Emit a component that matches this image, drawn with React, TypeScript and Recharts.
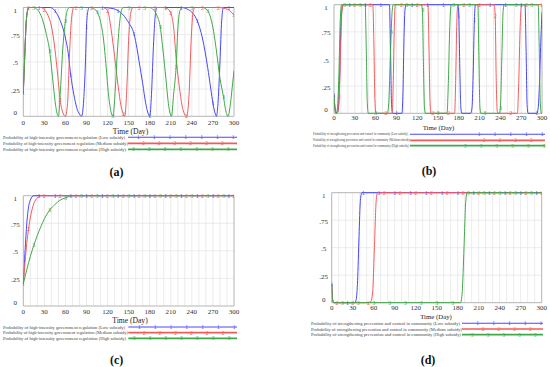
import React from "react";
import { LineChart, Line, XAxis, YAxis, CartesianGrid, ReferenceArea } from "recharts";

type Pt = [number, number];

const dayTicks = [0, 30, 60, 90, 120, 150, 180, 210, 240, 270, 300];
const probTicks = [0, 0.25, 0.5, 0.75, 1];
const gridDays = [10, 20, 30, 40, 50, 60, 70, 80, 90, 100, 110, 120, 130, 140, 150, 160, 170, 180, 190, 200, 210, 220, 230, 240, 250, 260, 270, 280, 290];

const regulationNames = [
  "Probability of high-intensity government regulation (Low subsidy)",
  "Probability of high-intensity government regulation (Medium subsidy)",
  "Probability of high-intensity government regulation (High subsidy)",
];
const communityNames = [
  "Probability of strengthening prevention and control in community (Low subsidy)",
  "Probability of strengthening prevention and control in community (Medium subsidy)",
  "Probability of strengthening prevention and control in community (High subsidy)",
];

// Vensim-style run markers: series number every 22.5 days, staggered
const markerOffsets = [0, 7.5, 15];
const markerStep = 22.5;

// (a) high-intensity government regulation
const aLow: Pt[] = [[0, 0.21], [2, 0.55], [4, 0.85], [6, 0.97], [8, 1], [22.5, 1], [38, 1], [45, 0.97], [52.5, 0.88], [60, 0.72], [64, 0.58], [67.5, 0.38], [72, 0.2], [76, 0.08], [80, 0.02], [83, 0], [86, 0.15], [88.5, 0.5], [90, 0.82], [92, 0.97], [94, 1], [112.5, 1], [128, 0.99], [135, 0.97], [142.5, 0.93], [150, 0.86], [157.5, 0.76], [162, 0.62], [165, 0.5], [170, 0.3], [174, 0.13], [177.5, 0.03], [180, 0], [182.5, 0.2], [185, 0.6], [187.5, 0.9], [190, 1], [202.5, 1], [225, 1], [235, 0.98], [241, 0.95], [247.5, 0.88], [255, 0.72], [262.5, 0.45], [267, 0.25], [270, 0.12], [273, 0.03], [275, 0], [277.5, 0.15], [280, 0.5], [282.5, 0.88], [285, 1], [292.5, 1], [300, 1]];
const aMed: Pt[] = [[0, 0.21], [2, 0.55], [4, 0.85], [6, 0.97], [7.5, 1], [25, 1], [30, 0.98], [35, 0.93], [40, 0.83], [45, 0.62], [49, 0.38], [52.5, 0.15], [56, 0.04], [60, 0], [63, 0.12], [66, 0.6], [69, 0.92], [72, 1], [75, 1], [97.5, 1], [113, 1], [120, 0.97], [125, 0.8], [130, 0.55], [135, 0.28], [139, 0.1], [142.5, 0.02], [144.5, 0], [147, 0.2], [150, 0.7], [153, 0.95], [156, 1], [165, 1], [187.5, 1], [200, 1], [205, 0.99], [210, 0.95], [214, 0.82], [218, 0.5], [222, 0.28], [226, 0.1], [229.5, 0.02], [232.5, 0], [236, 0.2], [239, 0.7], [242, 0.97], [245, 1], [255, 1], [277.5, 1], [288, 0.99], [294, 0.97], [300, 0.93]];
const aHigh: Pt[] = [[0, 0.21], [2, 0.55], [4, 0.85], [6, 0.97], [8, 1], [15, 1], [20, 0.98], [25, 0.93], [30, 0.83], [33, 0.75], [37.5, 0.6], [40, 0.46], [43, 0.27], [46, 0.1], [50, 0], [53, 0.25], [56, 0.6], [60, 0.88], [63, 0.98], [66, 1], [82.5, 1], [95, 1], [100, 0.99], [105, 0.96], [110, 0.87], [114, 0.72], [118, 0.45], [121, 0.22], [124, 0.07], [127.5, 0], [131, 0.25], [134, 0.6], [137.5, 0.88], [140, 0.98], [143, 1], [150, 1], [172.5, 1], [180, 1], [185, 0.98], [190, 0.93], [195, 0.82], [199, 0.6], [203, 0.35], [206, 0.15], [208.5, 0.04], [211, 0], [214, 0.2], [217.5, 0.45], [220, 0.8], [223, 0.97], [226, 1], [240, 1], [255, 1], [262.5, 0.97], [267, 0.9], [271, 0.78], [275, 0.6], [280, 0.35], [285, 0.18], [288, 0.06], [291.5, 0], [295, 0.12], [298, 0.3], [300, 0.42]];

// (b) strengthening prevention and control in community
const bLow: Pt[] = [[0, 0.17], [1.5, 0.04], [3, 0], [6, 0.02], [8, 0.3], [10, 0.8], [12, 0.98], [14, 1], [22.5, 1], [45, 1], [67.5, 1], [80, 1], [81.5, 0.6], [83, 0.08], [84.5, 0], [90, 0], [98, 0], [99.5, 0.2], [101, 0.7], [102.5, 0.96], [104, 1], [112.5, 1], [135, 1], [157.5, 1], [179, 1], [180, 0.9], [181.5, 0.4], [183, 0.05], [184.5, 0], [197, 0], [199, 0.05], [200.5, 0.3], [202.5, 0.86], [204, 1], [225, 1], [247.5, 1], [270, 1], [275.5, 1], [277, 0.6], [278.5, 0.08], [280, 0], [292.5, 0], [294.5, 0.05], [296.5, 0.3], [298.5, 0.7], [300, 0.93]];
const bMed: Pt[] = [[0, 0.17], [1.5, 0.04], [3, 0], [5.5, 0.02], [7.5, 0.15], [9.5, 0.6], [11.5, 0.95], [13.5, 1], [30, 1], [52.5, 1], [56, 1], [57.5, 0.65], [59, 0.12], [60.5, 0], [75, 0], [84, 0], [85.5, 0.3], [87, 0.8], [88.5, 1], [97.5, 1], [120, 1], [135.5, 1], [137, 0.6], [138.5, 0.1], [140, 0], [142.5, 0], [165, 0], [174, 0], [175.5, 0.3], [177, 0.8], [178.5, 1], [187.5, 1], [210, 1], [231, 1], [232.5, 0.9], [234, 0.3], [235.5, 0.02], [237, 0], [255, 0], [264.5, 0], [266.5, 0.3], [268.5, 0.8], [270.5, 1], [277.5, 1], [300, 1]];
const bHigh: Pt[] = [[0, 0.17], [1.5, 0.04], [3, 0], [5, 0.05], [7, 0.35], [9, 0.85], [11, 1], [15, 1], [37.5, 1], [45, 1], [46.5, 0.6], [48, 0.1], [49.5, 0], [60, 0], [77, 0], [79, 0.1], [81, 0.45], [82.5, 0.75], [84, 0.95], [85.5, 1], [105, 1], [126, 1], [127.5, 0.95], [129, 0.45], [130.5, 0.05], [132, 0], [150, 0], [163, 0], [165, 0.3], [167, 0.8], [169, 1], [172.5, 1], [195, 1], [207.5, 1], [209, 0.5], [210.5, 0.05], [212, 0], [217.5, 0], [238.5, 0], [240, 0.05], [242, 0.5], [244, 0.95], [245.5, 1], [262.5, 1], [285, 1], [294.5, 1], [296, 0.6], [297.5, 0.1], [299, 0], [300, 0]];

// (c) high-intensity government regulation
const cLow: Pt[] = [[0, 0.2], [2.5, 0.5], [5, 0.75], [7.5, 0.9], [10, 0.96], [15, 1], [22.5, 1], [45, 1], [67.5, 1], [90, 1], [112.5, 1], [135, 1], [157.5, 1], [180, 1], [202.5, 1], [225, 1], [247.5, 1], [270, 1], [292.5, 1], [300, 1]];
const cMed: Pt[] = [[0, 0.2], [2.5, 0.4], [5, 0.57], [7.5, 0.7], [10, 0.8], [15, 0.93], [20, 0.98], [25, 1], [30, 1], [52.5, 1], [75, 1], [97.5, 1], [120, 1], [142.5, 1], [165, 1], [187.5, 1], [210, 1], [232.5, 1], [255, 1], [277.5, 1], [300, 1]];
const cHigh: Pt[] = [[0, 0.2], [5, 0.33], [10, 0.45], [15, 0.55], [20, 0.64], [25, 0.72], [30, 0.79], [37.5, 0.87], [45, 0.92], [52.5, 0.96], [60, 0.98], [70, 1], [82.5, 1], [105, 1], [127.5, 1], [150, 1], [172.5, 1], [195, 1], [217.5, 1], [240, 1], [262.5, 1], [285, 1], [300, 1]];

// (d) strengthening prevention and control in community
const dLow: Pt[] = [[0, 0.17], [1.5, 0.02], [3, 0], [22.5, 0], [33, 0], [35, 0.03], [37, 0.2], [39, 0.6], [41, 0.93], [43, 1], [45, 1], [67.5, 1], [90, 1], [112.5, 1], [135, 1], [157.5, 1], [180, 1], [202.5, 1], [225, 1], [247.5, 1], [270, 1], [292.5, 1], [300, 1]];
const dMed: Pt[] = [[0, 0.17], [1.5, 0.02], [3, 0], [7.5, 0], [30, 0], [52.5, 0], [56, 0.01], [58.5, 0.1], [61, 0.5], [63.5, 0.92], [65.5, 1], [75, 1], [97.5, 1], [120, 1], [142.5, 1], [165, 1], [187.5, 1], [210, 1], [232.5, 1], [255, 1], [277.5, 1], [300, 1]];
const dHigh: Pt[] = [[0, 0.17], [1.5, 0.02], [3, 0], [15, 0], [37.5, 0], [60, 0], [82.5, 0], [105, 0], [127.5, 0], [150, 0], [172.5, 0], [184, 0], [186.5, 0.1], [189, 0.5], [191.5, 0.92], [193.5, 1], [195, 1], [217.5, 1], [240, 1], [262.5, 1], [285, 1], [300, 1]];

const colors = ["#4848f4", "#f35b5b", "#3ea948"];
const FONT = "'Liberation Serif', 'Times New Roman', serif";

const isMarker = (d: number, i: number) => {
  const k = (d - markerOffsets[i]) / markerStep;
  return k >= -1e-6 && Math.abs(k - Math.round(k)) < 1e-6;
};

const makeDot = (i: number) => (props: any) => {
  const { cx, cy, payload, index } = props;
  if (cx == null || cy == null || !isMarker(payload.d, i)) return <g key={`n${i}-${index}`} />;
  return (
    <text key={`m${i}-${index}`} x={cx} y={cy} textAnchor="middle" dominantBaseline="central"
      fontSize={6} fontFamily={FONT} fill={colors[i]}>
      {i + 1}
    </text>
  );
};

const YTick = ({ x, y, payload }: any) => {
  const v = payload.value;
  const dy = v === 1 ? 3.5 : v === 0 ? -3 : 1.5;
  const label = v === 0 ? "0" : v === 1 ? "1" : String(v).replace(/^0/, "");
  return (
    <text x={x - 8} y={y + dy} textAnchor="middle" dominantBaseline="central" fontSize={7} fontFamily={FONT} fill="#333">
      {label}
    </text>
  );
};

const XTick = ({ x, y, payload, off }: any) => (
  <text x={x} y={y + off} textAnchor="middle" dominantBaseline="central" fontSize={7} fontFamily={FONT} fill="#333">
    {payload.value}
  </text>
);

interface PanelProps {
  left: number;
  top: number;
  plotLeft: number;
  margin: { top: number; right: number; bottom: number; left: number };
  tickOff: number;
  series: Pt[][];
}

function Panel({ left, top, plotLeft, margin, tickOff, series }: PanelProps) {
  return (
    <div style={{ position: "absolute", left, top }}>
      <LineChart width={275} height={150} margin={margin}>
        <CartesianGrid stroke="#e6e6e6" strokeWidth={0.8} horizontalValues={[0.25, 0.5, 0.75]} verticalValues={gridDays} />
        <XAxis type="number" dataKey="d" domain={[0, 300]} ticks={dayTicks} interval={0} allowDataOverflow
          axisLine={false} tickLine={false} tickSize={0} tickMargin={0} height={20}
          tick={(p: any) => <XTick {...p} off={tickOff} />} />
        <YAxis type="number" domain={[0, 1]} ticks={probTicks} interval={0} width={plotLeft}
          axisLine={false} tickLine={false} tickSize={0} tickMargin={0} tick={<YTick />} />
        <ReferenceArea x1={0} x2={300} y1={0} y2={1} fill="none" stroke="#b4b4b4" strokeWidth={1} />
        {series.map((pts, i) => (
          <Line key={i} data={pts.map(([d, v]) => ({ d, v }))} dataKey="v" type="monotone"
            stroke={colors[i]} strokeWidth={1} dot={makeDot(i)} activeDot={false} isAnimationActive={false} />
        ))}
      </LineChart>
    </div>
  );
}

interface LegendProps {
  names: string[];
  x: number;
  widths: number[];
  fontSize: number;
  lineStart: number;
  lineEnd: number;
  rows: number[];
  firstMarks: number[];
}

function PanelLegend({ names, x, widths, fontSize, lineStart, lineEnd, rows, firstMarks }: LegendProps) {
  return (
    <g>
      {names.map((name, i) => {
        const y = rows[i];
        const marks: number[] = [];
        for (let m = firstMarks[i]; m <= lineEnd - 1; m += 15.8) marks.push(m);
        return (
          <g key={i}>
            <text x={x} y={y} fontSize={fontSize} textLength={widths[i]} lengthAdjust="spacingAndGlyphs"
              dominantBaseline="central" fontFamily={FONT} fill="#444">
              {name}
            </text>
            <line x1={lineStart} x2={lineEnd} y1={y} y2={y} stroke={colors[i]} strokeWidth={i === 0 ? 1.1 : 1.7} />
            {marks.map((m, k) => (
              <text key={k} x={m} y={y} textAnchor="middle" dominantBaseline="central" fontSize={5.5}
                fontFamily={FONT} fill={colors[i]}>
                {i + 1}
              </text>
            ))}
          </g>
        );
      })}
    </g>
  );
}

export default function App() {
  return (
    <div style={{ position: "absolute", left: 0, top: 0, width: 550, height: 367, background: "#fff", overflow: "hidden" }}>
      <Panel left={0} top={0} plotLeft={23.3} tickOff={6.4}
        margin={{ top: 7.5, right: 41, bottom: 13.7, left: 0 }} series={[aLow, aMed, aHigh]} />
      <Panel left={275} top={0} plotLeft={59} tickOff={5}
        margin={{ top: 4.7, right: 8, bottom: 16.7, left: 0 }} series={[bLow, bMed, bHigh]} />
      <Panel left={0} top={180} plotLeft={23.3} tickOff={6}
        margin={{ top: 15.7, right: 41, bottom: 4, left: 0 }} series={[cLow, cMed, cHigh]} />
      <Panel left={275} top={180} plotLeft={56.7} tickOff={5}
        margin={{ top: 12.7, right: 8.3, bottom: 7.3, left: 0 }} series={[dLow, dMed, dHigh]} />
      <svg width={550} height={367} style={{ position: "absolute", left: 0, top: 0, pointerEvents: "none" }}>
        <g fontFamily={FONT} fill="#222" textAnchor="middle" dominantBaseline="central">
          <text x={130.5} y={131} fontSize={7.6}>Time (Day)</text>
          <text x={438.5} y={127} fontSize={6.8}>Time (Day)</text>
          <text x={130} y={320} fontSize={7.6}>Time (Day)</text>
          <text x={436} y={316} fontSize={6.8}>Time (Day)</text>
        </g>
        <PanelLegend names={regulationNames} x={3} widths={[122, 125, 123]} fontSize={4.3}
          lineStart={128} lineEnd={237} rows={[137.3, 143.3, 149.3]} firstMarks={[138.3, 143.3, 133.3]} />
        <PanelLegend names={communityNames} x={313} widths={[95, 97, 96]} fontSize={3.3}
          lineStart={410} lineEnd={545} rows={[134.3, 140.3, 145.7]} firstMarks={[479, 484, 465]} />
        <PanelLegend names={regulationNames} x={3} widths={[122, 125, 123]} fontSize={4.3}
          lineStart={128.3} lineEnd={237} rows={[327, 332.7, 338.3]} firstMarks={[139.3, 144, 134]} />
        <PanelLegend names={communityNames} x={311} widths={[149, 151, 150]} fontSize={4.3}
          lineStart={462} lineEnd={543} rows={[323.3, 329, 334.7]} firstMarks={[477.7, 483, 472]} />
        <g fontFamily={FONT} fontWeight="bold" fontSize={12} fill="#111" textAnchor="middle" dominantBaseline="central">
          <text x={116.5} y={171.7}>(a)</text>
          <text x={429} y={171}>(b)</text>
          <text x={116.7} y={360}>(c)</text>
          <text x={428} y={360}>(d)</text>
        </g>
      </svg>
    </div>
  );
}
